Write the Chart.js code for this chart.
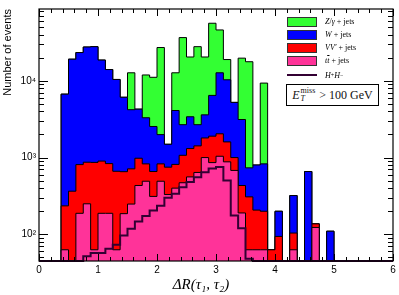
<!DOCTYPE html>
<html>
<head>
<meta charset="utf-8">
<script src="https://cdn.jsdelivr.net/npm/chart.js@4.4.1/dist/chart.umd.min.js"></script>
<style>
html, body { margin: 0; padding: 0; background: #fff; }
#wrap { position: relative; width: 399px; height: 295px; }
#legend { position: absolute; left: 287px; top: 15px; font-family: "Liberation Serif", "DejaVu Serif", serif; font-size: 8px; color: #000; }
#legend .row { height: 13px; display: flex; align-items: center; white-space: nowrap; }
#legend .sw { display: inline-block; width: 30px; height: 10px; margin-right: 8px; border: 1px solid #333; box-sizing: border-box; }
#legend .ln { display: inline-block; width: 30px; height: 2px; margin-right: 8px; background: #330033; }
#legend sup { font-size: 6px; vertical-align: 3px; }
#cut { position: absolute; left: 286px; top: 84px; width: 93px; height: 22px; box-sizing: border-box; border: 1px solid #000; background: #fff;
  font-family: "Liberation Serif", "DejaVu Serif", serif; font-size: 12px; font-weight: normal; color: #111;
  display: flex; align-items: center; justify-content: center; white-space: nowrap; }
#cut .ss { display: inline-flex; flex-direction: column; font-size: 8px; line-height: 8px; margin: 0 4px 0 1px; }
</style>
</head>
<body>
<div id="wrap">
  <canvas id="histo" width="399" height="295"></canvas>
  <div id="legend">
    <div class="row"><span class="sw" style="background:#33ff33"></span><i>Z</i>/<i>γ</i>&nbsp;+ jets</div>
    <div class="row"><span class="sw" style="background:#0000ff"></span><i>W</i>&nbsp;+ jets</div>
    <div class="row"><span class="sw" style="background:#ff0000"></span><i>VV′</i>&nbsp;+ jets</div>
    <div class="row"><span class="sw" style="background:#ff3399"></span><i>t</i><i style="text-decoration:overline">t</i>&nbsp;+ jets</div>
    <div class="row" style="height:16px"><span class="ln"></span><i>H</i><sup>+</sup><i>H</i><sup>−</sup></div>
  </div>
  <div id="cut"><i>E</i><span class="ss"><span>miss</span><i>T</i></span>&gt; 100 GeV</div>
</div>
<script>
// 48 bins of dR(tau1,tau2) between 0 and 6
const xMax = 6;
const nBins = 48;
const yMin = 45;
const yMax = 86000;

const ttbar = [0,0,0,63,0,188,250,63,188,188,63,186,248,433,492,312,492,330,400,470,560,640,1000,860,
               1040,880,680,190,63,63,63,0,0,0,63,0,0,123,0,0,0,0,0,0,0,0,0,0];
const vv    = [0,0,0,172,365,622,620,802,712,647,600,469,465,547,336,346,336,420,415,600,750,780,800,1040,
               1000,720,320,243,245,144,137,63,94,0,41,0,0,14,0,0,0,0,0,0,0,0,0,0];
const wjets = [0,0,0,6465,18735,22490,26630,26935,17700,13165,9737,5445,3487,3290,2472,1882,1162,740,3285,1610,2090,1260,1800,4550,
               10660,8700,4230,2697,427,593,628,0,106,0,216,0,658,0,0,110,0,0,0,0,0,0,0,0];
const zjets = [0,0,0,0,0,0,0,0,0,0,0,0,8500,0,8600,8560,25110,0,8600,33820,17000,25120,16800,49650,
               33200,8600,0,16570,16965,0,8502,0,0,0,0,0,0,0,0,0,0,0,0,0,0,0,0,0];
const hh    = [0,0,0,0,0,0,52,57,57,65,73,97,118,147,173,205,235,300,338,412,479,556,645,720,
               755,503,176,120,48,0,0,0,0,0,0,0,0,0,0,0,0,0,0,0,0,0,0,0];

// stack the backgrounds: each layer is drawn as the running sum
function addUp(a, b) { return a.map((v, i) => v + b[i]); }
const top1 = ttbar;
const top2 = addUp(top1, vv);
const top3 = addUp(top2, wjets);
const top4 = addUp(top3, zjets);

// step points at bin low edges, last point at xMax; empty bins sit on the axis floor
function steps(vals) {
  const pts = vals.map((v, i) => ({ x: i * xMax / nBins, y: Math.max(v, yMin) }));
  pts.push({ x: xMax, y: Math.max(vals[vals.length - 1], yMin) });
  return pts;
}

function layer(label, vals, color, order) {
  return {
    label: label, order: order,
    data: steps(vals), stepped: "before",
    backgroundColor: color, fill: "origin",
    borderColor: "#000", borderWidth: 1, pointRadius: 0
  };
}

const frameTicks = {
  id: "frameTicks",
  afterDatasetsDraw(chart) {
    const { ctx, chartArea: a, scales } = chart;
    const xs = scales.x, ys = scales.y;
    ctx.save();
    ctx.strokeStyle = "#000";
    ctx.lineWidth = 1;
    ctx.beginPath();
    for (let i = 0; i <= 30; i++) {
      const px = Math.round(xs.getPixelForValue(i / 5)) + 0.5;
      const len = i % 5 === 0 ? 7 : 4;
      ctx.moveTo(px, a.bottom); ctx.lineTo(px, a.bottom - len);
      ctx.moveTo(px, a.top); ctx.lineTo(px, a.top + len);
    }
    for (let e = 1; e <= 4; e++) {
      for (let m = 1; m <= 9; m++) {
        const v = m * Math.pow(10, e);
        if (v < ys.min || v > ys.max) continue;
        const py = Math.round(ys.getPixelForValue(v)) + 0.5;
        const len = m === 1 ? 9 : 5;
        ctx.moveTo(a.left, py); ctx.lineTo(a.left + len, py);
        ctx.moveTo(a.right, py); ctx.lineTo(a.right - len, py);
      }
    }
    ctx.stroke();
    ctx.lineWidth = 1.2;
    ctx.strokeRect(a.left, a.top, a.right - a.left, a.bottom - a.top);
    ctx.restore();
  }
};

const tickFont = { family: "'Liberation Sans', Arial, sans-serif", size: 10 };

new Chart(document.getElementById("histo"), {
  type: "line",
  data: {
    datasets: [
      {
        label: "H+H-", order: 0,
        data: steps(hh), stepped: "before", clip: false, fill: false,
        borderColor: "#330033", borderWidth: 2, pointRadius: 0
      },
      layer("ttbar + jets", top1, "#ff3399", 1),
      layer("VV' + jets", top2, "#ff0000", 2),
      layer("W + jets", top3, "#0000ff", 3),
      layer("Z/gamma + jets", top4, "#33ff33", 4)
    ]
  },
  options: {
    responsive: false,
    animation: false,
    devicePixelRatio: 1,
    layout: { padding: { left: 0, right: 6, top: 8, bottom: 0 } },
    plugins: { legend: { display: false }, tooltip: { enabled: false } },
    scales: {
      x: {
        type: "linear", position: "bottom", min: 0, max: xMax, offset: false,
        grid: { display: false, drawTicks: false }, border: { display: false },
        ticks: { stepSize: 1, color: "#000", font: tickFont, padding: 3, maxRotation: 0 },
        title: {
          display: true, text: "ΔR(τ₁, τ₂)\u2003\u2003", color: "#000",
          font: { family: "'Liberation Serif', 'DejaVu Serif', serif", size: 15, style: "italic" },
          padding: { top: 0, bottom: 1 }
        },
        afterFit: s => { s.height = 34; }
      },
      y: {
        type: "logarithmic", min: yMin, max: yMax,
        grid: { display: false, drawTicks: false }, border: { display: false },
        ticks: {
          autoSkip: false, color: "#000", font: tickFont, padding: 3,
          callback: v => ({ 100: "10²", 1000: "10³", 10000: "10⁴" })[v] || ""
        },
        title: {
          display: true, text: "Number of events", align: "end", color: "#000",
          font: { family: "'Liberation Sans', Arial, sans-serif", size: 11 },
          padding: { top: 1, bottom: 0 }
        },
        afterFit: s => { s.width = 39; }
      }
    }
  },
  plugins: [frameTicks]
});
</script>
</body>
</html>
